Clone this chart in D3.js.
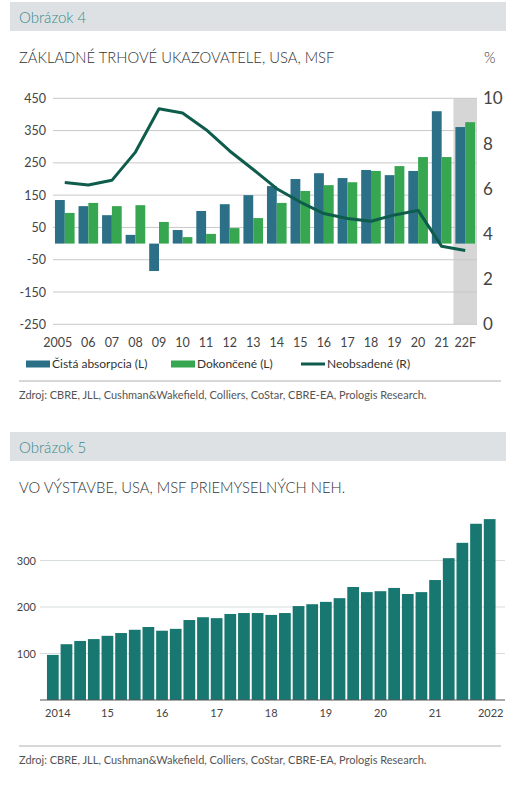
<!DOCTYPE html>
<html><head><meta charset="utf-8">
<script src="https://cdn.jsdelivr.net/npm/d3@7"></script>
<style>
body{margin:0;background:#fff;}
svg{display:block;font-family:Lato,"Open Sans",sans-serif;}
</style></head>
<body><svg id="c" width="517" height="807"></svg>
<script>
// ---- Chart 1 data ----
const years = ["2005","06","07","08","09","10","11","12","13","14","15","16","17","18","19","20","21","22F"];
const absorption = [135,116,88,27,-85,42,101,122,150,178,200,218,203,228,212,225,410,361];
const completions = [95,126,116,119,67,20,30,48,79,126,163,181,190,225,240,268,268,376];
const vacancy = [6.27,6.16,6.37,7.62,9.54,9.35,8.61,7.67,6.85,6.0,5.41,4.9,4.68,4.56,4.84,5.04,3.45,3.27];
const leftTicks = [450,350,250,150,50,-50,-150,-250];
const rightTicks = [10,8,6,4,2,0];
const legendLabels = ["Čistá absorpcia (L)","Dokončené (L)","Neobsadené (R)"];

// ---- Chart 2 data ----
const quarters = d3.range(33).map(i => `${2014 + Math.floor(i/4)}Q${i%4+1}`);
const underConstruction = [97,120,127,131,138,144,151,157,149,153,172,178,176,185,187,187,183,187,202,206,211,219,243,232,234,241,228,232,258,305,338,379,389];
const yTicks2 = [100,200,300];
const xLabels2 = {"2014Q1":"2014","2015Q1":"15","2016Q1":"16","2017Q1":"17","2018Q1":"18","2019Q1":"19","2020Q1":"20","2021Q1":"21","2022Q1":"2022"};

const source = "Zdroj: CBRE, JLL, Cushman&Wakefield, Colliers, CoStar, CBRE-EA, Prologis Research.";
const cBlue = "#2c7088", cGreen = "#37a651", cLine = "#0e5c4c", cTeal = "#187770";

const svg = d3.select("#c");

function header(y, label) {
  svg.append("rect").attr("x",10).attr("y",y).attr("width",496).attr("height",29).attr("fill","#dde1e4");
  svg.append("text").attr("x",19).attr("y",y+21).attr("font-size",15).attr("font-weight",300).attr("fill","#3c8a8c").text(label);
}

// ===== Chart 1 =====
header(2, "Obrázok 4");
svg.append("text").attr("x",19).attr("y",63).attr("font-size",14.8).attr("font-weight",300).attr("fill","#333").text("ZÁKLADNÉ TRHOVÉ UKAZOVATELE, USA, MSF");
svg.append("text").attr("x",484).attr("y",63).attr("font-size",14.8).attr("font-weight",300).attr("fill","#333").text("%");

const x1 = d3.scaleBand().domain(years).range([53,477]);
const yL = d3.scaleLinear().domain([-250,450]).range([324.3,98.3]);
const yR = d3.scaleLinear().domain([0,10]).range([324.3,98.3]);

// forecast shading
svg.append("rect").attr("x",x1("22F")).attr("y",yR(10)).attr("width",x1.bandwidth()).attr("height",yR(0)-yR(10)).attr("fill","#d6d6d6");

// gridlines
svg.append("g").selectAll("line").data(leftTicks).join("line")
  .attr("x1",53).attr("x2",477).attr("y1",d=>yL(d)).attr("y2",d=>yL(d))
  .attr("stroke","#c8c8c8").attr("stroke-width",1);

// left axis labels
svg.append("g").selectAll("text").data(leftTicks).join("text")
  .attr("x",46).attr("y",d=>yL(d)+4.5).attr("text-anchor","end").attr("font-size",12.5).attr("fill","#444").text(d=>d);
// right axis labels
svg.append("g").selectAll("text").data(rightTicks).join("text")
  .attr("x",483).attr("y",d=>yR(d)+6).attr("font-size",17).attr("fill","#444").text(d=>d);

const inner = d3.scaleBand().domain([0,1]).range([0,x1.bandwidth()]).paddingInner(0).paddingOuter(0.2);
svg.append("g").selectAll("rect").data(years).join("rect")
  .attr("x",d=>x1(d)+inner(0)).attr("width",inner.bandwidth())
  .attr("y",(d,i)=>yL(Math.max(0,absorption[i]))).attr("height",(d,i)=>Math.abs(yL(absorption[i])-yL(0)))
  .attr("fill",cBlue);
svg.append("g").selectAll("rect").data(years).join("rect")
  .attr("x",d=>x1(d)+inner(1)).attr("width",inner.bandwidth())
  .attr("y",(d,i)=>yL(Math.max(0,completions[i]))).attr("height",(d,i)=>Math.abs(yL(completions[i])-yL(0)))
  .attr("fill",cGreen);

const line = d3.line().x((d,i)=>x1(years[i])+x1.bandwidth()/2).y(d=>yR(d));
svg.append("path").datum(vacancy).attr("d",line).attr("fill","none").attr("stroke",cLine).attr("stroke-width",3).attr("stroke-linejoin","round");

// x labels
svg.append("g").selectAll("text").data(years).join("text")
  .attr("x",d=>x1(d)+x1.bandwidth()/2).attr("dx",(d,i)=>i===0?-7:0).attr("y",347)
  .attr("text-anchor","middle").attr("font-size",12.5).attr("fill","#444").text(d=>d);

// legend
const lg = svg.append("g");
const legendX = [26,171,301];
lg.selectAll("rect").data([cBlue,cGreen]).join("rect")
  .attr("x",(d,i)=>legendX[i]).attr("y",360.5).attr("width",24).attr("height",7).attr("fill",d=>d);
lg.append("line").attr("x1",legendX[2]).attr("x2",legendX[2]+24).attr("y1",364).attr("y2",364).attr("stroke",cLine).attr("stroke-width",3);
lg.selectAll("text").data(legendLabels).join("text")
  .attr("x",(d,i)=>legendX[i]+26).attr("y",368).attr("font-size",12).attr("fill","#333").text(d=>d);

svg.append("line").attr("x1",19).attr("x2",501).attr("y1",381).attr("y2",381).attr("stroke","#b0b0b0");
svg.append("text").attr("x",19).attr("y",399).attr("font-size",11).attr("fill","#555").text(source);

// ===== Chart 2 =====
header(432, "Obrázok 5");
svg.append("text").attr("x",19).attr("y",493).attr("font-size",14.8).attr("font-weight",300).attr("fill","#333").text("VO VÝSTAVBE, USA, MSF PRIEMYSELNÝCH NEH.");

const x2 = d3.scaleBand().domain(quarters).range([46,496.5]).paddingInner(0.14).paddingOuter(0.07);
const y2 = d3.scaleLinear().domain([0,100]).range([700,653.5]);

svg.append("g").selectAll("line").data(yTicks2).join("line")
  .attr("x1",40).attr("x2",505).attr("y1",d=>y2(d)).attr("y2",d=>y2(d)).attr("stroke","#d7dcdf").attr("stroke-width",1);
svg.append("g").selectAll("text").data(yTicks2).join("text")
  .attr("x",36).attr("y",d=>y2(d)+4).attr("text-anchor","end").attr("font-size",11).attr("fill","#444").text(d=>d);

svg.append("g").selectAll("rect").data(quarters).join("rect")
  .attr("x",d=>x2(d)).attr("width",x2.bandwidth())
  .attr("y",(d,i)=>y2(underConstruction[i])).attr("height",(d,i)=>y2(0)-y2(underConstruction[i]))
  .attr("fill",cTeal);

svg.append("line").attr("x1",40).attr("x2",505).attr("y1",700).attr("y2",700).attr("stroke","#555").attr("stroke-width",1.2);

const lab2 = quarters.filter(q => xLabels2[q]);
svg.append("g").selectAll("text").data(lab2).join("text")
  .attr("x",d=>x2(d)+x2.bandwidth()/2).attr("dx",(d,i)=>i===0?5:(i===lab2.length-1?1:0)).attr("y",717)
  .attr("text-anchor","middle").attr("font-size",11).attr("fill","#444").text(d=>xLabels2[d]);

svg.append("line").attr("x1",19).attr("x2",501).attr("y1",746).attr("y2",746).attr("stroke","#b0b0b0");
svg.append("text").attr("x",19).attr("y",764).attr("font-size",11).attr("fill","#555").text(source);
</script></body></html>
